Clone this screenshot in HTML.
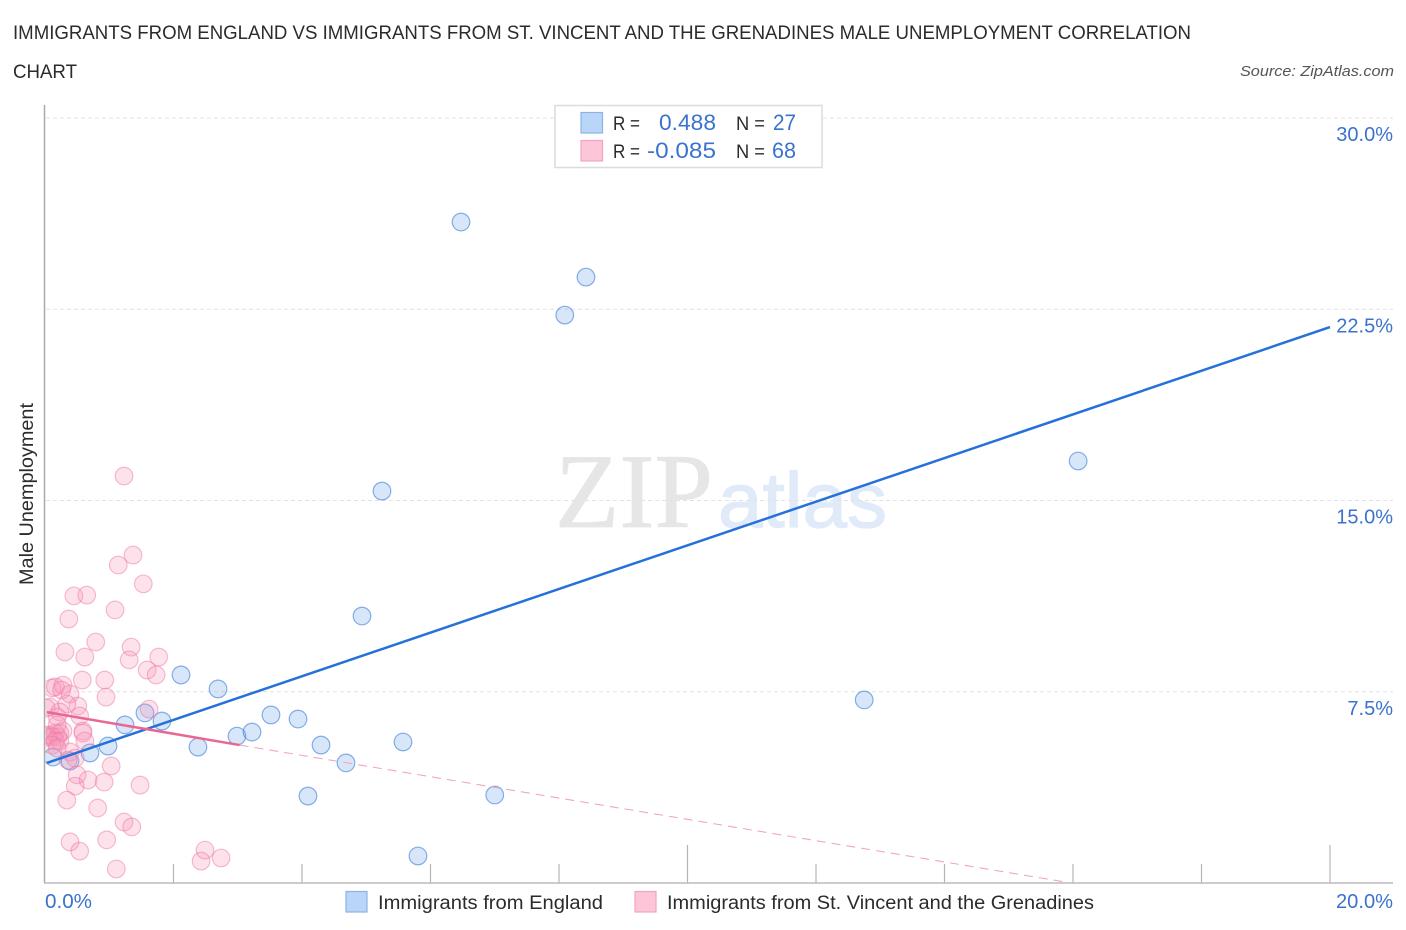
<!DOCTYPE html>
<html lang="en">
<head>
<meta charset="utf-8">
<title>Male Unemployment Correlation Chart</title>
<style>
html,body{margin:0;padding:0;background:#fff;width:1406px;height:930px;overflow:hidden}
svg{display:block;font-family:"Liberation Sans",sans-serif}
</style>
</head>
<body>
<svg id="chart" xmlns="http://www.w3.org/2000/svg" width="1406" height="930" viewBox="0 0 1406 930">
  <defs>
    <clipPath id="plotClip"><rect x="45.500" y="100" width="1350" height="783"/></clipPath>
  </defs>
  <text x="13" y="39" font-size="19" fill="#2b2b2b" textLength="1178" lengthAdjust="spacingAndGlyphs">IMMIGRANTS FROM ENGLAND VS IMMIGRANTS FROM ST. VINCENT AND THE GRENADINES MALE UNEMPLOYMENT CORRELATION</text>
  <text x="13" y="78" font-size="19" fill="#2b2b2b" textLength="64" lengthAdjust="spacingAndGlyphs">CHART</text>
  <text x="1394" y="76" font-size="15" font-style="italic" fill="#555" text-anchor="end" textLength="154" lengthAdjust="spacingAndGlyphs">Source: ZipAtlas.com</text>

  <g>
    <text x="555" y="527" font-family="'Liberation Serif',serif" font-size="106" fill="#e6e6e6" stroke="#e6e6e6" stroke-width="0.800" textLength="158" lengthAdjust="spacingAndGlyphs">ZIP</text>
    <text x="718" y="527" font-size="78" fill="#e0eaf9" stroke="#e0eaf9" stroke-width="1.200" textLength="169" lengthAdjust="spacingAndGlyphs">atlas</text>
  </g>

  <g id="grid"></g>
  <g id="axes"></g>
  <g id="ylabels"></g>

  <text transform="translate(33,585) rotate(-90)" font-size="19" fill="#2b2b2b" textLength="182" lengthAdjust="spacingAndGlyphs">Male Unemployment</text>
  <text x="45" y="908" font-size="20" fill="#3b73cc" textLength="47" lengthAdjust="spacingAndGlyphs">0.0%</text>
  <text x="1393" y="908" font-size="20" fill="#3b73cc" text-anchor="end" textLength="57" lengthAdjust="spacingAndGlyphs">20.0%</text>

  <g id="bluePts" clip-path="url(#plotClip)"></g>
  <g id="pinkPts" clip-path="url(#plotClip)"></g>
  <g id="trends"></g>

  <g>
    <rect x="555" y="105.500" width="267" height="62" fill="#fff" stroke="#dcdcdc" stroke-width="1.500"/>
    <rect x="581" y="112.500" width="21.500" height="20.500" fill="#b9d5f8" stroke="#8ab4e8" stroke-width="1.200"/>
    <rect x="581" y="140.500" width="21.500" height="20.500" fill="#fcc6d8" stroke="#f2a5c0" stroke-width="1.200"/>
    <text x="613" y="130" font-size="19" fill="#2b2b2b" textLength="27" lengthAdjust="spacingAndGlyphs">R =</text>
    <text x="716" y="130" font-size="22" fill="#3b73cc" text-anchor="end" textLength="57" lengthAdjust="spacingAndGlyphs">0.488</text>
    <text x="736" y="130" font-size="19" fill="#2b2b2b" textLength="29" lengthAdjust="spacingAndGlyphs">N =</text>
    <text x="773" y="130" font-size="22" fill="#3b73cc" textLength="23" lengthAdjust="spacingAndGlyphs">27</text>
    <text x="613" y="158" font-size="19" fill="#2b2b2b" textLength="27" lengthAdjust="spacingAndGlyphs">R =</text>
    <text x="716" y="158" font-size="22" fill="#3b73cc" text-anchor="end" textLength="69" lengthAdjust="spacingAndGlyphs">-0.085</text>
    <text x="736" y="158" font-size="19" fill="#2b2b2b" textLength="29" lengthAdjust="spacingAndGlyphs">N =</text>
    <text x="772" y="158" font-size="22" fill="#3b73cc" textLength="24" lengthAdjust="spacingAndGlyphs">68</text>
  </g>

  <g>
    <g>
      <rect x="346" y="891.500" width="21" height="20.500" fill="#b9d5f8" stroke="#8ab4e8" stroke-width="1.200"/>
      <text x="378" y="909" font-size="19" fill="#2b2b2b" textLength="225" lengthAdjust="spacingAndGlyphs">Immigrants from England</text>
    </g>
    <g>
      <rect x="635" y="891.500" width="21" height="20.500" fill="#fcc6d8" stroke="#f2a5c0" stroke-width="1.200"/>
      <text x="667" y="909" font-size="19" fill="#2b2b2b" textLength="427" lengthAdjust="spacingAndGlyphs">Immigrants from St. Vincent and the Grenadines</text>
    </g>
  </g>
</svg>
<script>
const yTicks = [7.5, 15, 22.5, 30];
const yTickLabels = ['7.5%', '15.0%', '22.5%', '30.0%'];
const xTicks = [2, 4, 6, 8, 10, 12, 14, 16, 18, 20];
const xMajorTicks = [10, 20];

const englandX = [6.475, 8.42, 8.09, 16.08, 5.245, 4.934, 12.75, 2.117, 2.693, 1.556, 1.821, 1.245, 0.98, 0.70, 0.389, 0.125, 2.381, 2.988, 3.222, 3.517, 3.938, 4.296, 4.685, 5.572, 7.0, 4.093, 5.805];
const englandY = [25.92, 23.76, 22.27, 16.55, 15.37, 10.47, 7.18, 8.16, 7.61, 6.67, 6.35, 6.20, 5.37, 5.10, 4.78, 4.94, 5.33, 5.76, 5.92, 6.59, 6.43, 5.41, 4.71, 5.53, 3.45, 3.41, 1.06];

const vincentX = [1.23, 1.37, 1.14, 1.53, 0.45, 0.65, 1.09, 0.37, 0.79, 0.31, 0.62, 1.34, 1.31, 1.77, 1.59, 1.73, 0.58, 0.93, 0.95, 1.62, 0.16, 0.11, 0.28, 0.26, 0.39, 0.51, 0.34, 0.08, 0.02, 0.23, 0.19, 0.54, 0.28, 0.59, 0.59, 0.62, 0.16, 0.08, 0.03, 0.23, 0.20, 0.12, 0.05, 0.16, 0.23, 0.11, 0.19, 0.39, 0.47, 0.36, 1.03, 0.50, 0.67, 0.92, 0.47, 1.48, 0.34, 0.82, 1.23, 1.35, 0.96, 0.39, 0.54, 1.11, 2.49, 2.43, 2.74, 0.19];
const vincentY = [15.96, 12.86, 12.47, 11.73, 11.26, 11.29, 10.71, 10.35, 9.45, 9.06, 8.86, 9.25, 8.75, 8.86, 8.35, 8.16, 7.96, 7.96, 7.29, 6.82, 7.69, 7.65, 7.76, 7.57, 7.41, 6.94, 7.02, 6.90, 6.86, 6.71, 6.51, 6.55, 5.96, 5.96, 5.88, 5.57, 5.88, 5.80, 5.80, 5.88, 5.73, 5.73, 5.73, 5.57, 5.57, 5.41, 5.29, 5.14, 4.90, 4.82, 4.59, 4.24, 4.04, 3.96, 3.80, 3.84, 3.25, 2.94, 2.39, 2.20, 1.69, 1.61, 1.25, 0.55, 1.29, 0.86, 0.98, 6.20];

const englandTrendX = [0.03, 20];
const englandTrendY = [4.71, 21.80];
const vincentTrendX = [0.03, 3.03];
const vincentTrendY = [6.70, 5.41];
const vincentDashX = [3.03, 15.9];
const vincentDashY = [5.41, 0.03];

const SVGNS = 'http://www.w3.org/2000/svg';
function sx(v) { return 45 + v * 64.25; }
function sy(v) { return 883 - v * 25.5; }
function make(tag, parentId, attrs) {
  const el = document.createElementNS(SVGNS, tag);
  for (const k in attrs) el.setAttribute(k, attrs[k]);
  document.getElementById(parentId).appendChild(el);
  return el;
}

yTicks.forEach(function (t, i) {
  const line = make('line', 'grid', { x1: 46, x2: 1393, y1: sy(t), y2: sy(t), stroke: '#e2e2e2', 'stroke-width': 1, 'stroke-dasharray': '4 3' });
  
  
  const label = make('text', 'ylabels', { x: 1393, y: sy(t) + 23, 'font-size': 20, fill: '#3b73cc', 'text-anchor': 'end' });
  label.textContent = yTickLabels[i];
  
  
});

const yAxisLine = make('line', 'axes', { x1: 44.5, x2: 44.5, y1: 105, y2: sy(0), stroke: '#aaaaaa', 'stroke-width': 1.5 });


const xAxisLine = make('line', 'axes', { x1: 44, x2: 1393, y1: sy(0), y2: sy(0), stroke: '#bbbbbb', 'stroke-width': 1.6 });



xTicks.forEach(function (t) {
  const top = xMajorTicks.indexOf(t) >= 0 ? sy(0) - 38 : sy(0) - 19;
  const tick = make('line', 'axes', { x1: sx(t), x2: sx(t), y1: top, y2: sy(0), stroke: '#b5b5b5', 'stroke-width': 1.2 });
  
  
});

englandX.forEach(function (x, i) {
  const pt = make('circle', 'bluePts', { cx: sx(x), cy: sy(englandY[i]), r: 8.800, fill: 'rgba(110,165,235,0.28)', stroke: 'rgba(60,125,215,0.6)', 'stroke-width': 1.200 });
  
  
});

vincentX.forEach(function (x, i) {
  const pt = make('circle', 'pinkPts', { cx: sx(x), cy: sy(vincentY[i]), r: 8.800, fill: 'rgba(248,150,185,0.28)', stroke: 'rgba(236,120,160,0.48)', 'stroke-width': 1.200 });
  
  
});

const blueTrend = make('line', 'trends', { x1: sx(englandTrendX[0]), y1: sy(englandTrendY[0]), x2: sx(englandTrendX[1]), y2: sy(englandTrendY[1]), stroke: '#2671d9', 'stroke-width': 2.500 });


const pinkTrend = make('line', 'trends', { x1: sx(vincentTrendX[0]), y1: sy(vincentTrendY[0]), x2: sx(vincentTrendX[1]), y2: sy(vincentTrendY[1]), stroke: '#ea6694', 'stroke-width': 2.500 });


const pinkDash = make('line', 'trends', { x1: sx(vincentDashX[0]), y1: sy(vincentDashY[0]), x2: sx(vincentDashX[1]), y2: sy(vincentDashY[1]), stroke: '#f2a6c0', 'stroke-width': 1.100, 'stroke-dasharray': '9 6' });


</script>
</body>
</html>
